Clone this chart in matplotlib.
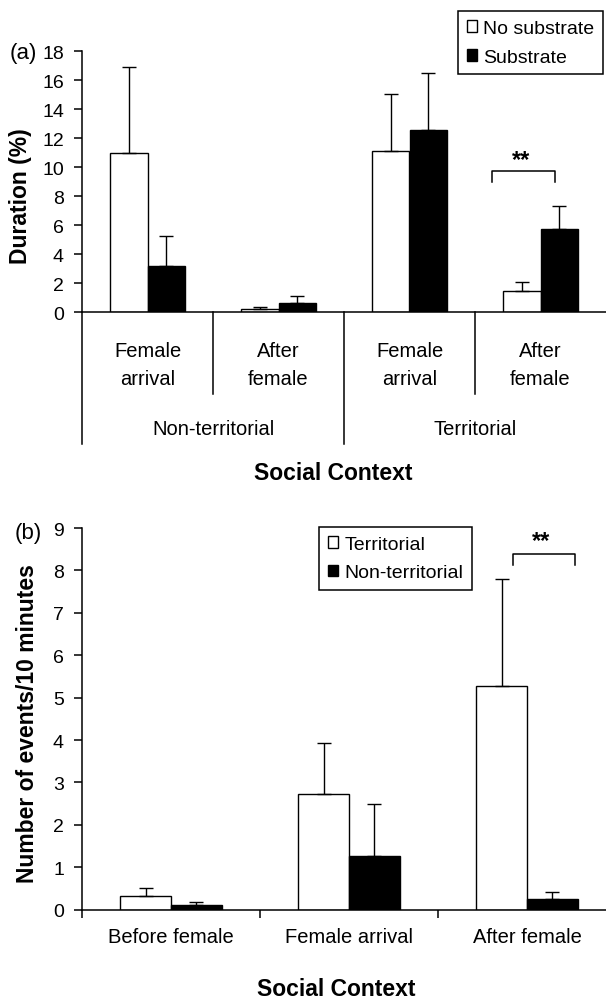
import numpy as np
import matplotlib
matplotlib.use("Agg")
import matplotlib.pyplot as plt
import matplotlib.transforms as mtransforms

plt.rcParams['font.family'] = ['Liberation Sans', 'DejaVu Sans']

# ---- panel (a) data: duration (%) ----
a_groups = ["Female\narrival", "After\nfemale", "Female\narrival", "After\nfemale"]
a_super = ["Non-territorial", "Territorial"]
a_nosub = [10.95, 0.2, 11.15, 1.45]
a_nosub_err = [6.0, 0.12, 3.9, 0.6]
a_sub = [3.15, 0.65, 12.6, 5.7]
a_sub_err = [2.1, 0.45, 3.9, 1.65]
a_yticks = list(range(0, 19, 2))

# ---- panel (b) data: events per 10 minutes ----
b_groups = ["Before female", "Female arrival", "After female"]
b_terr = [0.32, 2.73, 5.27]
b_terr_err = [0.18, 1.19, 2.53]
b_nonterr = [0.1, 1.26, 0.25]
b_nonterr_err = [0.07, 1.24, 0.17]
b_yticks = list(range(0, 10))

W, H = 606, 1003
fig = plt.figure(figsize=(W / 100, H / 100), dpi=100)

bw = 1 / 3.5  # excel-like gap width 150%
tick_fs = 14
cat_fs = 14.5
lab_fs = 16.5


def bars(ax, x, white, white_err, black, black_err, labels):
    ax.bar(x - bw / 2, white, bw, color='white', edgecolor='black', linewidth=1.0, label=labels[0], zorder=2)
    ax.bar(x + bw / 2, black, bw, color='black', edgecolor='black', linewidth=1.0, label=labels[1], zorder=2)
    for xs, v, e in [(x - bw / 2, white, white_err), (x + bw / 2, black, black_err)]:
        ax.errorbar(xs, v, yerr=[np.zeros(len(v)), e], fmt='none', ecolor='black',
                    elinewidth=1.0, capsize=4.7, capthick=1.0, zorder=3)


def style(ax, yticks):
    for s in ['top', 'right']:
        ax.spines[s].set_visible(False)
    for s in ['left', 'bottom']:
        ax.spines[s].set_linewidth(1.1)
    ax.set_yticks(yticks)
    ax.tick_params(axis='y', direction='out', length=6, width=1.1, labelsize=tick_fs, pad=7)


def bracket(ax, x0, x1, ytop, ybot, sx, sy):
    ax.plot([x0, x0, x1, x1], [ybot, ytop, ytop, ybot], color='black', lw=1.1, clip_on=False)
    ax.text(sx, sy, "**", ha='center', va='center', fontsize=17, fontweight='bold')


def legend(ax, anchor, loc):
    leg = ax.legend(loc=loc, bbox_to_anchor=anchor, bbox_transform=fig.transFigure,
                    fontsize=14, frameon=True, fancybox=False, edgecolor='black', framealpha=1,
                    handlelength=0.55, handleheight=0.55, handletextpad=0.3,
                    labelspacing=0.6, borderpad=0.45, borderaxespad=0)
    leg.get_frame().set_linewidth(1.1)
    return leg


# ---------- panel (a) ----------
axa = fig.add_axes([82 / W, 1 - 313 / H, 524 / W, (313 - 52.3) / H])
xa = np.arange(len(a_nosub))
bars(axa, xa, a_nosub, a_nosub_err, a_sub, a_sub_err, ["No substrate", "Substrate"])
axa.set_xlim(-0.5, 3.5)
axa.set_ylim(0, 18)
style(axa, a_yticks)
axa.set_xticks([])
axa.set_ylabel("Duration (%)", fontsize=lab_fs, fontweight='bold')
axa.yaxis.set_label_coords(-0.095, 0.447)

trans_a = mtransforms.blended_transform_factory(axa.transData, axa.transAxes)
for xb in [-0.5, 1.5]:
    axa.plot([xb, xb], [0, -0.506], color='black', lw=1.1, transform=trans_a, clip_on=False)
for xb in [0.5, 2.5]:
    axa.plot([xb, xb], [0, -0.3145], color='black', lw=1.1, transform=trans_a, clip_on=False)
for xi, lab in zip(xa, a_groups):
    axa.text(xi, -0.201, lab, ha='center', va='center', fontsize=cat_fs, linespacing=1.55,
             transform=trans_a)
for xi, lab in zip([0.5, 2.5], a_super):
    axa.text(xi, -0.445, lab, ha='center', va='center', fontsize=cat_fs, transform=trans_a)

bracket(axa, 2.63, 3.11, 9.72, 8.97, 2.85, 10.55)
legend(axa, (603 / W, 1 - 12.3 / H), 'upper right')

fig.text(10 / W, 1 - 54 / H, "(a)", fontsize=16, ha='left', va='center')
fig.text(333 / W, 1 - 474 / H, "Social Context", fontsize=lab_fs, fontweight='bold',
         ha='center', va='center')

# ---------- panel (b) ----------
axb = fig.add_axes([82 / W, 1 - 910.7 / H, 534 / W, (910.7 - 529) / H])
xb_ = np.arange(len(b_terr))
bars(axb, xb_, b_terr, b_terr_err, b_nonterr, b_nonterr_err, ["Territorial", "Non-territorial"])
axb.set_xlim(-0.5, 2.5)
axb.set_ylim(0, 9)
style(axb, b_yticks)
axb.set_xticks([])
axb.set_xticks([-0.5, 0.5, 1.5], minor=True)
axb.tick_params(axis='x', which='minor', direction='out', length=6, width=1.1)
axb.set_ylabel("Number of events/10 minutes", fontsize=lab_fs, fontweight='bold')
axb.yaxis.set_label_coords(-0.08, 0.489)

trans_b = mtransforms.blended_transform_factory(axb.transData, axb.transAxes)
for xi, lab in zip(xb_, b_groups):
    axb.text(xi, -0.0715, lab, ha='center', va='center', fontsize=cat_fs, transform=trans_b)

bracket(axb, 1.92, 2.27, 8.39, 8.13, 2.08, 8.7)
legend(axb, (319 / W, 1 - 528 / H), 'upper left')

fig.text(15 / W, 1 - 534 / H, "(b)", fontsize=16, ha='left', va='center')
fig.text(336 / W, 1 - 990 / H, "Social Context", fontsize=lab_fs, fontweight='bold',
         ha='center', va='center')

fig.savefig("out.png", dpi=100)
